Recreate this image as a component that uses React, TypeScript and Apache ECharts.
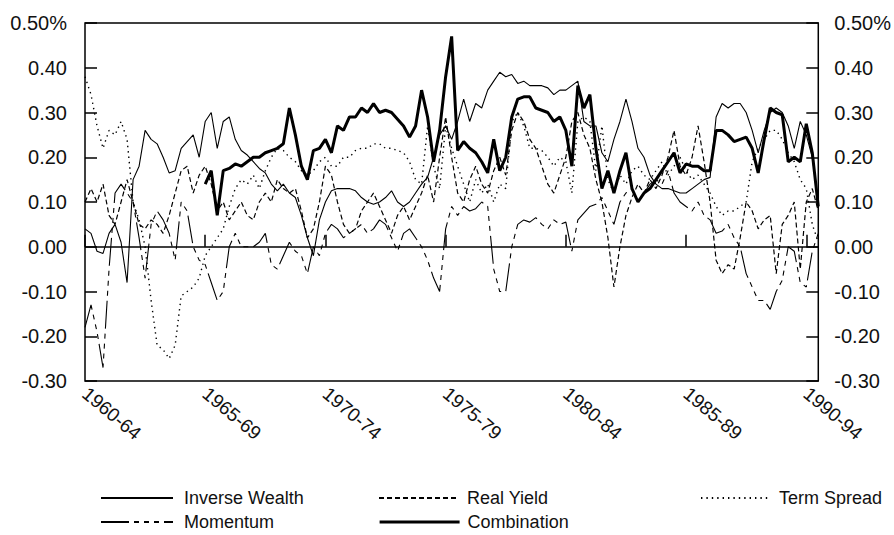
import React, { useEffect, useRef } from "react";
import * as echarts from "echarts";

// Quarterly observation dates, 1960.00 ... 1990.50
const quarters: number[] = Array.from({ length: 123 }, (_, i) => 1960 + i * 0.25);

// Tick labels of the horizontal axis (start year of each five-year window)
const periodStarts = [1960, 1965, 1970, 1975, 1980, 1985, 1990];
const periodLabels = ["1960-64", "1965-69", "1970-74", "1975-79", "1980-84", "1985-89", "1990-94"];

const inverseWealth = [
  0.04, 0.03, -0.01, -0.015, 0.03, 0.05, 0.01, -0.08,
  0.15, 0.18, 0.26, 0.24, 0.23, 0.2, 0.165, 0.17,
  0.22, 0.235, 0.25, 0.2, 0.28, 0.3, 0.22, 0.28,
  0.29, 0.24, 0.215, 0.205, 0.19, 0.175, 0.165, 0.14,
  0.125, 0.14, 0.12, 0.11, 0.07, 0.02, -0.02, 0.06,
  0.1, 0.125, 0.13, 0.13, 0.13, 0.125, 0.11, 0.1,
  0.095, 0.1, 0.11, 0.125, 0.1, 0.09, 0.1, 0.12,
  0.14, 0.155, 0.2, 0.25, 0.27, 0.24, 0.28, 0.33,
  0.28, 0.32, 0.31, 0.35, 0.37, 0.39, 0.38, 0.385,
  0.365, 0.37, 0.36, 0.36, 0.36, 0.355, 0.34, 0.35,
  0.35, 0.36, 0.37, 0.28, 0.27, 0.27, 0.21, 0.19,
  0.24, 0.28, 0.33, 0.28, 0.22, 0.2, 0.16, 0.14,
  0.13, 0.13, 0.125, 0.12, 0.12, 0.13, 0.14, 0.15,
  0.155, 0.29, 0.32, 0.31, 0.32, 0.32, 0.3, 0.26,
  0.21, 0.26, 0.3, 0.31, 0.3, 0.27, 0.22, 0.28,
  0.25, 0.2, 0.1,
];

const realYield = [
  0.1, 0.13, 0.1, 0.14, 0.07, 0.05, 0.1, 0.15,
  0.1, 0.05, 0.04, 0.06, 0.05, 0.03, 0.07, 0.12,
  0.17, 0.18, 0.12, 0.16, 0.18, 0.14, 0.08, 0.1,
  0.06, 0.08, 0.1, 0.07, 0.06, 0.1, 0.12, 0.1,
  0.15, 0.13, 0.12, 0.13, 0.08, 0.02, 0.04, 0.1,
  0.18, 0.16, 0.1, 0.05, 0.03, 0.04, 0.08, 0.1,
  0.12, 0.09, 0.06, 0.03, 0.07, 0.09, 0.06, 0.09,
  0.12, 0.16, 0.1, 0.2, 0.29, 0.2, 0.12, 0.1,
  0.15, 0.18, 0.14, 0.12, 0.17, 0.2, 0.16, 0.26,
  0.3, 0.28, 0.24, 0.22, 0.18, 0.14, 0.12, 0.16,
  0.2, 0.28, 0.3, 0.25, 0.22, 0.15, 0.1, 0.02,
  -0.09, 0.0, 0.07, 0.11, 0.14, 0.12, 0.15, 0.13,
  0.16, 0.2, 0.26, 0.18, 0.16, 0.2, 0.27, 0.19,
  0.1, -0.03, -0.06, -0.04, -0.05, 0.02, 0.1, 0.08,
  0.04, 0.06, 0.07, -0.06, 0.05, 0.07, 0.1, -0.05,
  0.1, 0.13, 0.08,
];

const termSpread = [
  0.38, 0.34, 0.27, 0.22, 0.26, 0.25, 0.28, 0.24,
  0.1, 0.06, 0.0, -0.12, -0.22, -0.23, -0.25, -0.22,
  -0.11, -0.1, -0.09, -0.07, -0.02, 0.0, 0.02, 0.04,
  0.09, 0.13, 0.15, 0.14, 0.16, 0.13, 0.17, 0.2,
  0.22, 0.215, 0.2, 0.19, 0.17, 0.16, 0.17, 0.19,
  0.2, 0.18, 0.18, 0.2, 0.2, 0.215, 0.22, 0.22,
  0.23, 0.23, 0.22, 0.22, 0.215, 0.21, 0.19, 0.15,
  0.14, 0.27, 0.18, 0.13, 0.27, 0.22, 0.18, 0.14,
  0.1, 0.15, 0.12, 0.14, 0.1, 0.14, 0.13, 0.28,
  0.3, 0.27, 0.22, 0.22, 0.215, 0.2, 0.18, 0.2,
  0.19, 0.12, 0.28, 0.29, 0.28, 0.17, 0.27, 0.15,
  0.12, 0.16, 0.14, 0.17, 0.18, 0.16, 0.15, 0.17,
  0.19, 0.16, 0.18, 0.2, 0.17, 0.15, 0.16, 0.14,
  0.12, 0.09, 0.07, 0.08, 0.08, 0.09, 0.1, 0.19,
  0.22, 0.24, 0.26, 0.26, 0.24, 0.21, 0.19, 0.15,
  0.13, 0.05, 0.01,
];

const momentum = [
  -0.18, -0.13, -0.19, -0.27, -0.05, 0.12, 0.14, 0.12,
  0.1, 0.02, -0.07, 0.05, 0.08, 0.06, 0.03, -0.03,
  0.1, 0.08, 0.0, -0.03, -0.04, -0.08, -0.12, -0.1,
  0.0, 0.03, 0.0, 0.0, 0.0, 0.01, 0.03, -0.04,
  -0.05, -0.02, 0.01, -0.01, -0.02, -0.06, 0.0, -0.02,
  0.03, 0.05, 0.04, 0.02, 0.03, 0.04, 0.05, 0.03,
  0.04, 0.06, 0.05, 0.02, -0.01, 0.03, 0.04, 0.02,
  0.0, -0.03, -0.07, -0.1, 0.04, 0.09, 0.07, 0.09,
  0.08, 0.085, 0.1, 0.09, -0.05, -0.1, -0.1, 0.0,
  0.05, 0.06, 0.055, 0.065, 0.05, 0.04, 0.06, 0.05,
  0.055, -0.01, 0.06, 0.075, 0.09, 0.095, 0.11, 0.08,
  0.05, 0.1, 0.12, 0.13, 0.1, 0.12, 0.14, 0.15,
  0.14, 0.17, 0.12, 0.1, 0.09, 0.08, 0.1, 0.07,
  0.06, 0.03, 0.035, 0.05, 0.02, 0.0, -0.06, -0.09,
  -0.12, -0.12, -0.14, -0.1, -0.075, 0.0, -0.01, -0.08,
  -0.09, -0.01, 0.03,
];

const combination = [
  null, null, null, null, null, null, null, null,
  null, null, null, null, null, null, null, null,
  null, null, null, null, 0.14, 0.17, 0.07, 0.17,
  0.175, 0.185, 0.18, 0.19, 0.2, 0.2, 0.21, 0.215,
  0.22, 0.23, 0.31, 0.25, 0.18, 0.15, 0.215, 0.22,
  0.24, 0.21, 0.27, 0.26, 0.29, 0.29, 0.31, 0.3,
  0.32, 0.3, 0.305, 0.3, 0.285, 0.27, 0.245, 0.27,
  0.35, 0.29, 0.19, 0.26, 0.38, 0.47, 0.215, 0.235,
  0.22, 0.21, 0.19, 0.165, 0.24, 0.17, 0.2, 0.29,
  0.33, 0.335, 0.335, 0.31, 0.305, 0.3, 0.28, 0.29,
  0.26, 0.18, 0.36, 0.31, 0.34, 0.22, 0.13, 0.17,
  0.12, 0.17, 0.21, 0.13, 0.1, 0.12, 0.13, 0.15,
  0.17, 0.19, 0.21, 0.165, 0.185, 0.18, 0.18, 0.17,
  0.17, 0.26, 0.26, 0.25, 0.235, 0.24, 0.245, 0.22,
  0.165, 0.24, 0.31, 0.3, 0.295, 0.19, 0.2, 0.19,
  0.275, 0.21, 0.09,
];

const FONT = "'Liberation Sans', Arial, Helvetica, sans-serif";
const INK = "#111";

function pairs(values: (number | null)[]) {
  return quarters.map((t, i) => [t, values[i] === undefined ? null : values[i]]);
}

function yLabel(v: number): string {
  const r = Math.round(v * 100) / 100;
  if (Math.abs(r - 0.5) < 1e-9) return "0.50%";
  return (r === 0 ? 0 : r).toFixed(2);
}

function xLabel(v: number): string {
  const idx = periodStarts.findIndex((p) => Math.abs(p - v) < 1e-6);
  return idx >= 0 ? periodLabels[idx] : "";
}

function legendItem(name: string, left: number, top: number, width: number, gap: number, lineWidth?: number) {
  const item: any = {
    data: [name],
    left,
    top,
    padding: 0,
    itemWidth: width,
    itemHeight: 12,
    itemStyle: { opacity: 0 },
    selectedMode: false,
    textStyle: { fontFamily: FONT, fontSize: 18, color: INK, padding: [0, 0, 0, gap] },
  };
  if (lineWidth) item.lineStyle = { width: lineWidth };
  return item;
}

export default function App() {
  const ref = useRef<HTMLDivElement>(null);

  useEffect(() => {
    document.body.style.margin = "0";
    if (!ref.current) return;
    const chart = echarts.init(ref.current, undefined, { renderer: "svg" });

    const yAxisCommon = {
      type: "value" as const,
      min: -0.3,
      max: 0.5,
      interval: 0.1,
      axisLine: { show: false },
      splitLine: { show: false },
      axisTick: { show: true, inside: true, length: 12, lineStyle: { color: "#000", width: 1.5 } },
    };

    const option: any = {
      animation: false,
      backgroundColor: "#fff",
      grid: {
        left: 85,
        right: 74,
        top: 23,
        bottom: 154,
        show: true,
        borderColor: "#000",
        borderWidth: 1.5,
        backgroundColor: "transparent",
      },
      xAxis: {
        type: "value",
        min: 1960,
        max: 1990.5,
        interval: 5,
        axisLine: { show: false },
        splitLine: { show: false },
        axisTick: { show: true, inside: true, length: 12, lineStyle: { color: "#000", width: 1.5 } },
        axisLabel: {
          rotate: -40,
          margin: 10,
          fontFamily: FONT,
          fontSize: 19,
          color: INK,
          showMaxLabel: false,
          formatter: xLabel,
        },
      },
      yAxis: [
        {
          ...yAxisCommon,
          position: "left",
          axisLabel: { fontFamily: FONT, fontSize: 20, color: INK, margin: 18, formatter: yLabel },
        },
        {
          ...yAxisCommon,
          position: "right",
          axisLabel: { fontFamily: FONT, fontSize: 20, color: INK, margin: 16, formatter: yLabel },
        },
      ],
      legend: [
        legendItem("Inverse Wealth", 100, 489, 72, 6),
        legendItem("Real Yield", 378, 489, 80, 3),
        legendItem("Term Spread", 700, 489, 70, 3),
        legendItem("Momentum", 100, 513, 72, 6),
        legendItem("Combination", 378, 513, 80, 3, 3.2),
      ],
      series: [
        {
          name: "Inverse Wealth",
          type: "line",
          data: pairs(inverseWealth),
          symbol: "none",
          lineStyle: { color: "#000", width: 1.1, type: "solid" },
          itemStyle: { color: "#000" },
          z: 3,
          markLine: {
            silent: true,
            symbol: ["none", "none"],
            label: { show: false },
            lineStyle: { color: "#000", width: 1.5, type: "solid" },
            data: [{ yAxis: 0 }],
          },
        },
        {
          name: "Real Yield",
          type: "line",
          data: pairs(realYield),
          symbol: "none",
          lineStyle: { color: "#000", width: 1.2, type: [5, 3] },
          itemStyle: { color: "#000" },
          z: 2,
        },
        {
          name: "Term Spread",
          type: "line",
          data: pairs(termSpread),
          symbol: "none",
          lineStyle: { color: "#000", width: 1.4, type: [1.4, 4] },
          itemStyle: { color: "#000" },
          z: 2,
        },
        {
          name: "Momentum",
          type: "line",
          data: pairs(momentum),
          symbol: "none",
          lineStyle: { color: "#000", width: 1.1, type: [28, 5, 5, 5, 5, 5, 5, 5] },
          itemStyle: { color: "#000" },
          z: 2,
        },
        {
          name: "Combination",
          type: "line",
          data: pairs(combination),
          symbol: "none",
          connectNulls: false,
          lineStyle: { color: "#000", width: 3 },
          itemStyle: { color: "#000" },
          z: 4,
        },
      ],
    };

    chart.setOption(option);
    return () => chart.dispose();
  }, []);

  return <div ref={ref} style={{ width: 894, height: 535 }} />;
}
